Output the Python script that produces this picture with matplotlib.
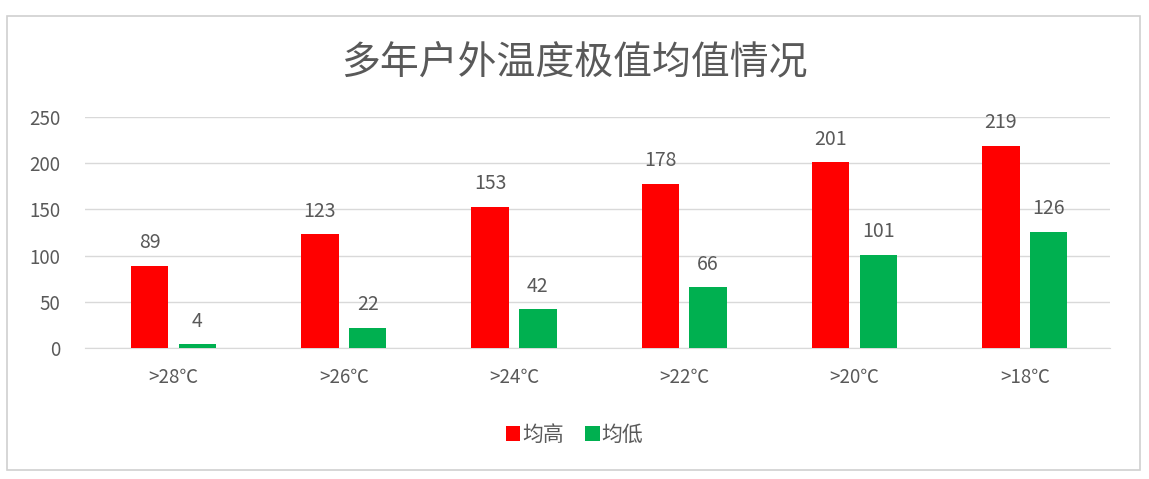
import matplotlib.pyplot as plt
import numpy as np
from matplotlib.patches import Rectangle

plt.rcParams["font.family"] = ["Noto Sans CJK SC", "DejaVu Sans"]

TITLE = "多年户外温度极值均值情况"
CATEGORIES = [">28℃", ">26℃", ">24℃", ">22℃", ">20℃", ">18℃"]
HIGH_LABEL = "均高"
LOW_LABEL = "均低"
HIGH = [89, 123, 153, 178, 201, 219]
LOW = [4, 22, 42, 66, 101, 126]
YTICKS = [0, 50, 100, 150, 200, 250]

RED = "#FF0000"
GREEN = "#00B050"
TEXT = "#595959"
GRID = "#D9D9D9"

fig = plt.figure(figsize=(11.49, 4.79), dpi=100)
fig.patches.append(Rectangle((0.006, 0.018), 0.986, 0.948, transform=fig.transFigure,
                             facecolor="none", edgecolor="#D0D0D0", linewidth=1.2,
                             zorder=-1))

ax = fig.add_axes([0.074, 0.2735, 0.892, 0.4822])
x = np.arange(len(CATEGORIES))
width = 0.22
offset = 0.14
bars_hi = ax.bar(x - offset, HIGH, width, color=RED, label=HIGH_LABEL, zorder=3)
bars_lo = ax.bar(x + offset, LOW, width, color=GREEN, label=LOW_LABEL, zorder=3)

for bars in (bars_hi, bars_lo):
    ax.bar_label(bars, padding=9, fontsize=14, color=TEXT)

ax.set_xlim(-0.52, len(CATEGORIES) - 0.5)
ax.set_ylim(0, 250)
ax.set_yticks(YTICKS)
ax.set_xticks(x)
ax.set_xticklabels(CATEGORIES)
ax.tick_params(axis="both", length=0, labelsize=13.5, labelcolor=TEXT)
ax.tick_params(axis="x", pad=14)
ax.tick_params(axis="y", pad=18)
ax.grid(axis="y", color=GRID, linewidth=1, zorder=0)
for side in ("top", "right", "left"):
    ax.spines[side].set_visible(False)
ax.spines["bottom"].set_color(GRID)

fig.text(0.5, 0.87, TITLE, ha="center", va="center", fontsize=28, color=TEXT)

fig.legend(loc="center", bbox_to_anchor=(0.5, 0.092), ncol=2, frameon=False,
           fontsize=15, handlelength=0.7, handleheight=0.7, handletextpad=0.1,
           columnspacing=1.0, labelcolor=TEXT)

fig.savefig("out.png", dpi=100)
